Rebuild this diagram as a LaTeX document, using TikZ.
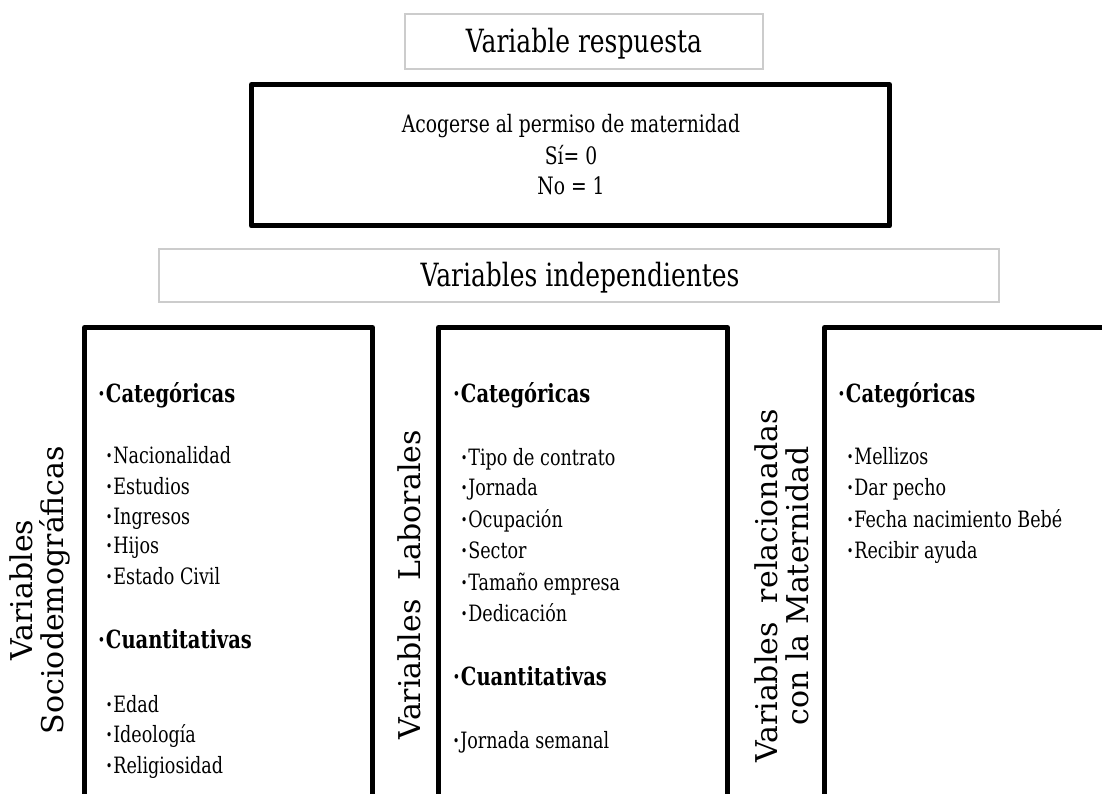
\documentclass[tikz,border=0pt]{standalone}
\usepackage{fontspec}
\setmainfont{DejaVu Serif}[FakeStretch=0.78]
\newfontfamily\labelfont{DejaVu Serif}
\newcommand\dotmark{{\bfseries ·}\kern1pt}
\begin{document}
\begin{tikzpicture}[x=1pt,y=-1pt,
  lightframe/.style={draw=black!20, line width=1.5pt},
  heavyframe/.style={draw=black, line width=5pt, line join=round},
  title/.style={font=\fontsize{32}{36}\selectfont, anchor=base, inner sep=0pt},
  answer/.style={font=\fontsize{24}{30}\selectfont, anchor=base, inner sep=0pt},
  group/.style={font=\bfseries\fontsize{25}{28}\selectfont, anchor=base west, inner sep=0pt},
  entry/.style={font=\fontsize{22.5}{26}\selectfont, anchor=base west, inner sep=0pt},
  sidelabel/.style={font=\labelfont\fontsize{30}{31}\selectfont, rotate=90, align=center, inner sep=0pt}]

\useasboundingbox (0,0) rectangle (1102,794);
\fill[white] (0,0) rectangle (1102,794);

% response variable
\draw[lightframe] (405,14) rectangle (763,69);
\node[title] (resptitle) at (584,53) {Variable respuesta};
\draw[heavyframe] (251.5,84.5) rectangle (889.5,226);
\node[answer] (resp1) at (571,133) {Acogerse al permiso de maternidad};
\node[answer] (resp2) at (571,165) {Sí= 0};
\node[answer] (resp3) at (571,195) {No = 1};

% independent variables
\draw[lightframe] (159,249) rectangle (999,302);
\node[title] (indtitle) at (580,287) {Variables independientes};

% column frames (open past the lower edge)
\draw[heavyframe] (84.5,840) rectangle (372.5,327.5);
\draw[heavyframe] (438.5,840) rectangle (727.5,327.5);
\draw[heavyframe] (824.5,840) rectangle (1140,327.5);

% side labels
\node[sidelabel] (sdlabel) at (40,590) {Variables\\Sociodemográficas};
\node[sidelabel] (lablabel) at (409,585) {Variables\ \ Laborales};
\node[sidelabel] (matlabel) at (782,586) {Variables\ \ relacionadas\\con la Maternidad};

% sociodemographic
\node[group] (sdcat) at (98,402) {\dotmark Categóricas};
\foreach \t/\yy [count=\i] in {Nacionalidad/463, Estudios/494, Ingresos/524, Hijos/553, Estado Civil/584}
  \node[entry] (sdc\i) at (106,\yy) {\dotmark\t};
\node[group] (sdcuant) at (98,648) {\dotmark Cuantitativas};
\foreach \t/\yy [count=\i] in {Edad/712, Ideología/742, Religiosidad/773}
  \node[entry] (sdq\i) at (106,\yy) {\dotmark\t};

% labour
\node[group] (labcat) at (453,402) {\dotmark Categóricas};
\foreach \t/\yy [count=\i] in {Tipo de contrato/465, Jornada/495, Ocupación/527, Sector/558, Tamaño empresa/590, Dedicación/621}
  \node[entry] (labc\i) at (461,\yy) {\dotmark\t};
\node[group] (labcuant) at (453,685) {\dotmark Cuantitativas};
\node[entry] (labq1) at (453,748) {\dotmark Jornada semanal};

% maternity
\node[group] (matcat) at (838,402) {\dotmark Categóricas};
\foreach \t/\yy [count=\i] in {Mellizos/464, Dar pecho/495, Fecha nacimiento Bebé/527, Recibir ayuda/558}
  \node[entry] (matc\i) at (847,\yy) {\dotmark\t};
\end{tikzpicture}
\end{document}
